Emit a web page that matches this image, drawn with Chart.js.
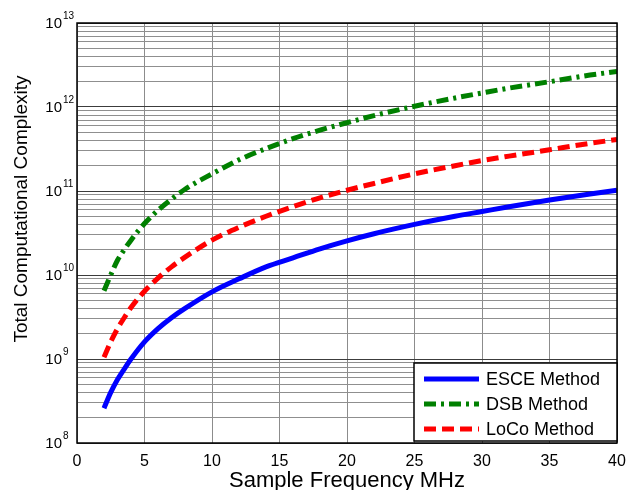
<!DOCTYPE html>
<html lang="en">
<head>
    <meta charset="UTF-8">
    <title>Total Computational Complexity</title>
    <script src="https://cdn.jsdelivr.net/npm/chart.js"></script>
    <style>
        body { margin: 0; background: #fff; }
        #wrap { width: 630px; height: 490px; }
    </style>
</head>
<body>
    <div id="wrap"><canvas id="myChart" width="630" height="490"></canvas></div>
    <script>
        // Sample frequency (MHz)
        const freqMHz = [2, 2.5, 3, 3.5, 4, 5, 6, 7, 8, 10, 12, 14, 16, 18, 20, 22, 25, 28, 30, 32, 35, 38, 40];

        // Values
        const esce = [2.6e8, 4.0e8, 5.7e8, 7.6e8, 1.0e9, 1.6e9, 2.3e9, 3.1e9, 4.0e9, 6.3e9, 9.0e9, 1.25e10,
                      1.6e10, 2.05e10, 2.55e10, 3.1e10, 4.0e10, 5.0e10, 5.7e10, 6.5e10, 7.8e10, 9.2e10, 1.02e11];
        const dsb = [6.5e9, 1.0e10, 1.5e10, 2.0e10, 2.6e10, 4.1e10, 5.9e10, 8.0e10, 1.05e11, 1.6e11, 2.35e11, 3.2e11,
                     4.2e11, 5.3e11, 6.5e11, 7.9e11, 1.02e12, 1.28e12, 1.47e12, 1.68e12, 2.0e12, 2.4e12, 2.65e12];
        const loco = [1.05e9, 1.6e9, 2.3e9, 3.1e9, 4.1e9, 6.4e9, 9.2e9, 1.25e10, 1.63e10, 2.6e10, 3.7e10, 5.0e10,
                      6.5e10, 8.3e10, 1.02e11, 1.23e11, 1.6e11, 2.0e11, 2.3e11, 2.6e11, 3.1e11, 3.7e11, 4.1e11];

        const seriesNames = ['ESCE Method', 'DSB Method', 'LoCo Method'];
        const xTicks = [0, 5, 10, 15, 20, 25, 30, 35, 40];
        const yExponents = [8, 9, 10, 11, 12, 13];

        const FONT = 'Arial, "Liberation Sans", Helvetica, sans-serif';

        function toPoints(ys) {
            return ys.map((y, i) => ({ x: freqMHz[i], y: y }));
        }

        // minor + major log ticks
        function logTicks() {
            let t = [];
            for (let e = yExponents[0]; e < yExponents[yExponents.length - 1]; e++) {
                for (let m = 1; m <= 9; m++) t.push({ value: m * Math.pow(10, e) });
            }
            t.push({ value: Math.pow(10, yExponents[yExponents.length - 1]) });
            return t;
        }

        function isDecade(v) {
            const l = Math.log10(v);
            return Math.abs(l - Math.round(l)) < 1e-9;
        }

        // axis labels, titles, box, legend drawn by hand (matlab look)
        const matlabLook = {
            id: 'matlabLook',
            afterDraw(chart) {
                const ctx = chart.ctx;
                const area = chart.chartArea;
                const ys = chart.scales.y;

                ctx.save();
                // plot box
                ctx.strokeStyle = '#000';
                ctx.lineWidth = 1.5;
                ctx.strokeRect(area.left, area.top, area.right - area.left, area.bottom - area.top);

                // y tick labels 10^n
                ctx.fillStyle = '#000';
                yExponents.forEach(e => {
                    const py = ys.getPixelForValue(Math.pow(10, e));
                    ctx.font = '15px ' + FONT;
                    ctx.textAlign = 'right';
                    ctx.textBaseline = 'middle';
                    ctx.fillText('10', 62, py + 1);
                    ctx.font = '10px ' + FONT;
                    ctx.textAlign = 'left';
                    ctx.fillText(String(e), 63, py - 7);
                });

                // axis titles
                ctx.font = '22px ' + FONT;
                ctx.textAlign = 'center';
                ctx.textBaseline = 'middle';
                ctx.fillText('Sample Frequency MHz', (area.left + area.right) / 2, 481);

                ctx.save();
                ctx.translate(22, 209);
                ctx.rotate(-Math.PI / 2);
                ctx.font = '19px ' + FONT;
                ctx.fillText('Total Computational Complexity', 0, 0);
                ctx.restore();

                // legend box
                const lx = 414, ly = 363, lw = area.right - 414, lh = 78;
                ctx.fillStyle = '#fff';
                ctx.fillRect(lx, ly, lw, lh);
                ctx.strokeStyle = '#000';
                ctx.lineWidth = 1.5;
                ctx.strokeRect(lx, ly, lw, lh);

                const rows = [379, 404, 429];
                chart.data.datasets.forEach((ds, i) => {
                    ctx.strokeStyle = ds.borderColor;
                    ctx.lineWidth = ds.borderWidth;
                    ctx.setLineDash(ds.borderDash || []);
                    ctx.beginPath();
                    ctx.moveTo(424, rows[i]);
                    ctx.lineTo(479, rows[i]);
                    ctx.stroke();
                    ctx.setLineDash([]);
                    ctx.fillStyle = '#000';
                    ctx.font = '18px ' + FONT;
                    ctx.textAlign = 'left';
                    ctx.textBaseline = 'middle';
                    ctx.fillText(ds.label, 486, rows[i] + 1);
                });
                ctx.restore();
            }
        };

        const ctx = document.getElementById('myChart').getContext('2d');
        new Chart(ctx, {
            type: 'line',
            data: {
                datasets: [
                    {
                        label: seriesNames[0],
                        data: toPoints(esce),
                        borderColor: '#0000ff',
                        borderWidth: 5,
                        pointRadius: 0,
                        cubicInterpolationMode: 'monotone',
                        fill: false
                    },
                    {
                        label: seriesNames[1],
                        data: toPoints(dsb),
                        borderColor: '#008000',
                        borderWidth: 5,
                        borderDash: [12, 5, 3, 5],
                        pointRadius: 0,
                        cubicInterpolationMode: 'monotone',
                        fill: false
                    },
                    {
                        label: seriesNames[2],
                        data: toPoints(loco),
                        borderColor: '#ff0000',
                        borderWidth: 5,
                        borderDash: [12, 6],
                        pointRadius: 0,
                        cubicInterpolationMode: 'monotone',
                        fill: false
                    }
                ]
            },
            options: {
                responsive: false,
                animation: false,
                layout: { padding: { top: 23, right: 13, left: 0, bottom: 0 } },
                plugins: {
                    legend: { display: false },
                    tooltip: { enabled: false }
                },
                scales: {
                    x: {
                        type: 'linear',
                        min: 0,
                        max: 40,
                        afterBuildTicks: scale => { scale.ticks = xTicks.map(v => ({ value: v })); },
                        afterFit: scale => {
                            scale.height = 47;
                            scale.paddingLeft = 0;
                            scale.paddingRight = 0;
                        },
                        grid: { color: '#8c8c8c', lineWidth: 1, drawTicks: false },
                        border: { display: false },
                        ticks: {
                            color: '#000',
                            padding: 9,
                            maxRotation: 0,
                            font: { family: FONT, size: 16 }
                        }
                    },
                    y: {
                        type: 'logarithmic',
                        min: 1e8,
                        max: 1e13,
                        afterBuildTicks: scale => { scale.ticks = logTicks(); },
                        afterFit: scale => {
                            scale.width = 77;
                            scale.paddingTop = 0;
                            scale.paddingBottom = 0;
                        },
                        grid: {
                            drawTicks: false,
                            color: c => (c.tick && isDecade(c.tick.value)) ? '#3c3c3c' : '#8f8f8f',
                            lineWidth: 1
                        },
                        border: { display: false },
                        ticks: { display: false }
                    }
                }
            },
            plugins: [matlabLook]
        });
    </script>
</body>
</html>
